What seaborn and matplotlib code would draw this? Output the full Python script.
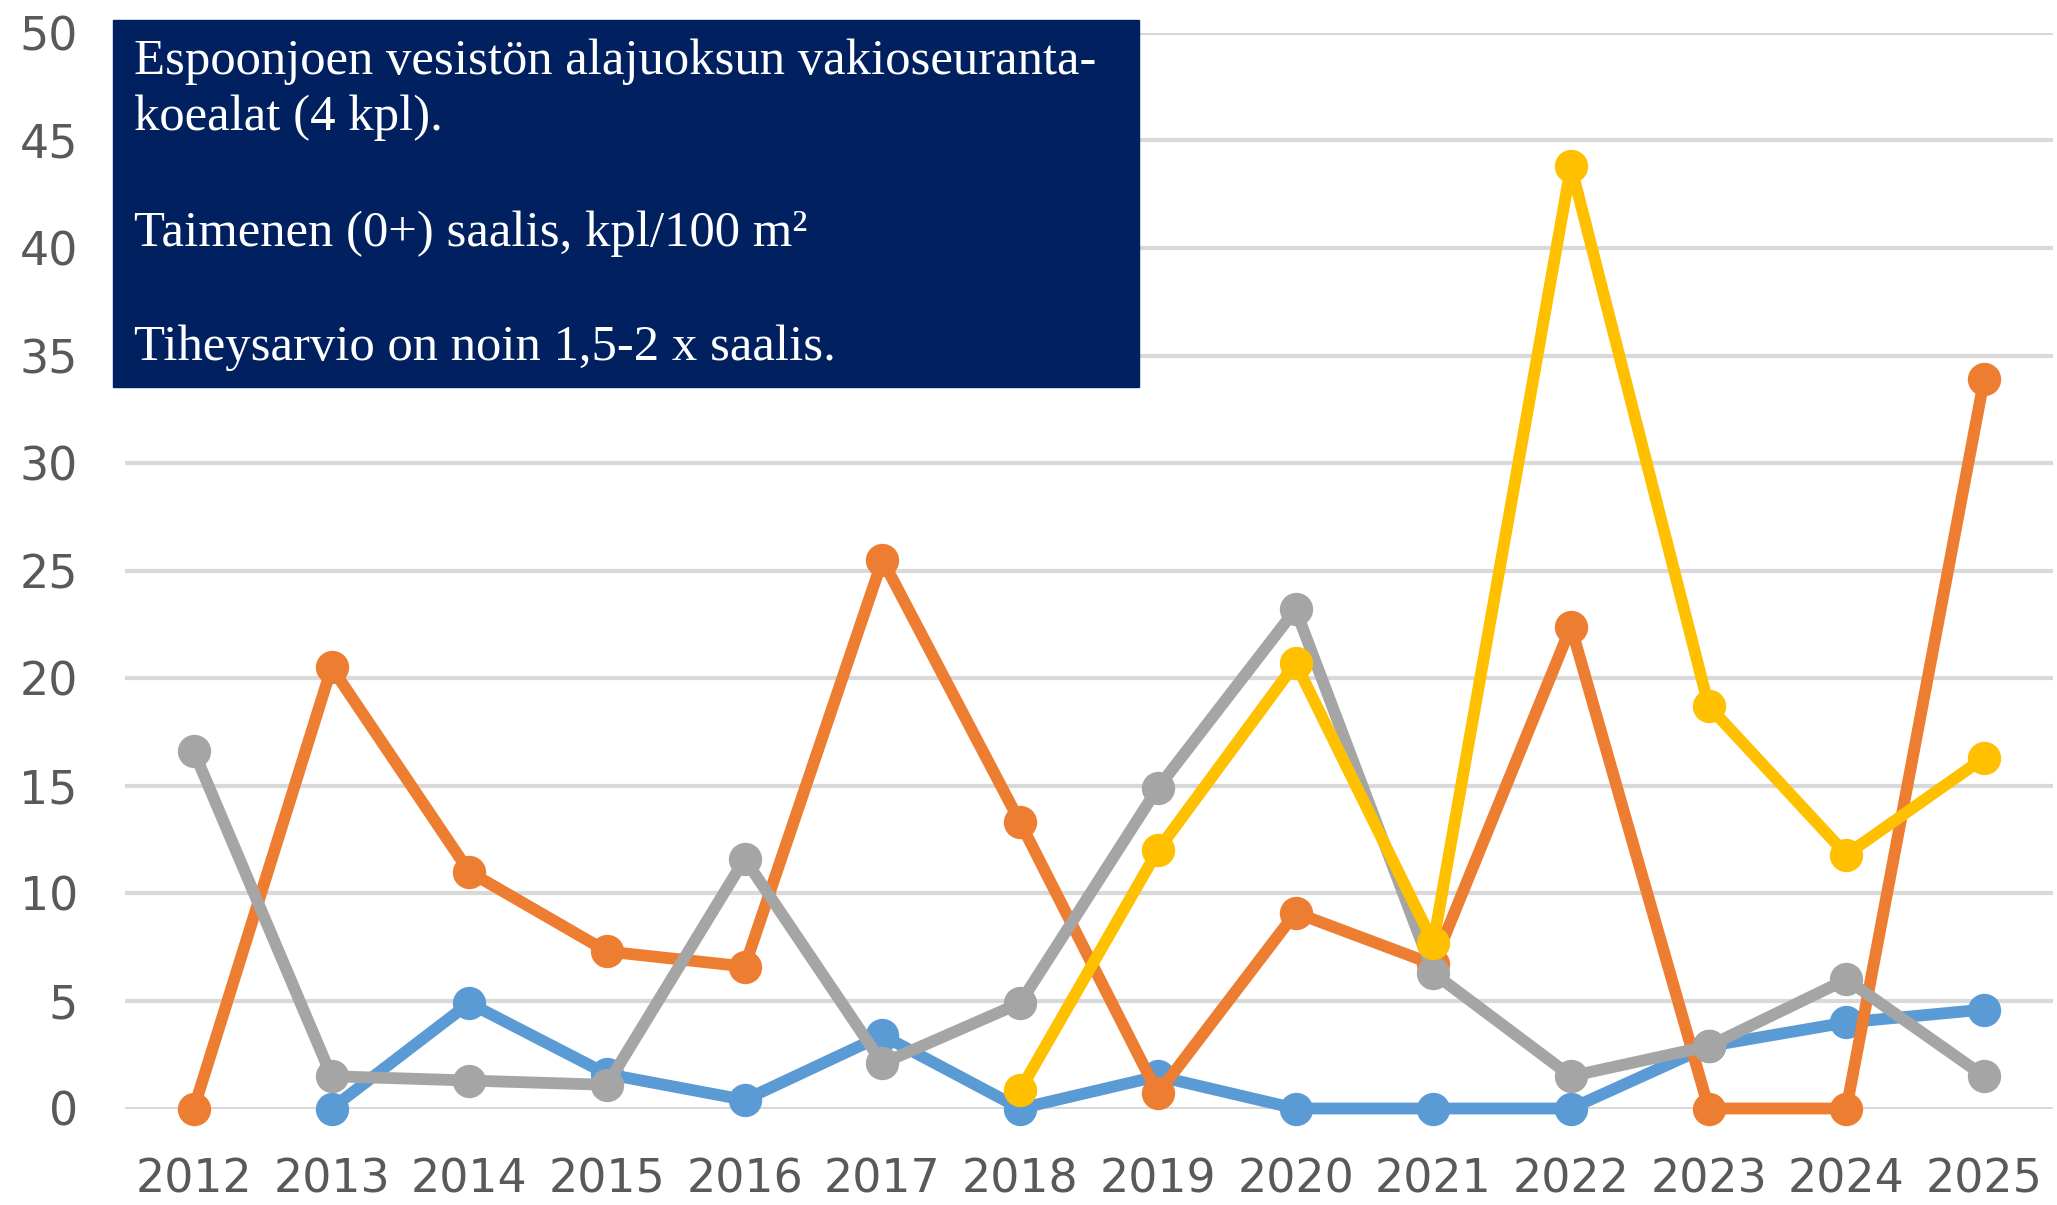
import numpy as np
import pandas as pd
import matplotlib
matplotlib.use("Agg")
import matplotlib.pyplot as plt
import seaborn as sns

years = list(range(2012, 2026))
blue = [np.nan, 0, 4.9, 1.6, 0.4, 3.4, 0, 1.5, 0, 0, 0, 2.9, 4.0, 4.6]
orange = [0, 20.5, 11.0, 7.3, 6.6, 25.5, 13.3, 0.7, 9.1, 6.7, 22.4, 0, 0, 33.9]
gray = [16.6, 1.5, 1.3, 1.1, 11.6, 2.1, 4.9, 14.9, 23.2, 6.3, 1.5, 2.9, 6.0, 1.5]
yellow = [np.nan] * 6 + [0.85, 12.0, 20.7, 7.7, 43.8, 18.7, 11.8, 16.3]

series = {"blue": blue, "orange": orange, "gray": gray, "yellow": yellow}
colors = {"blue": "#5B9BD5", "orange": "#ED7D31", "gray": "#A5A5A5", "yellow": "#FFC000"}

df = pd.DataFrame({"year": years, **series}).melt(id_vars="year", var_name="s", value_name="v")
df = df.dropna()

sns.set_style("white")
plt.rcParams["font.family"] = ["DejaVu Sans"]

fig = plt.figure(figsize=(20.57, 12.05), dpi=100)
ax = fig.add_axes([125 / 2057, 1 - 1108.5 / 1205, (2053 - 125) / 2057, (1108.5 - 32.8) / 1205])

for name in series:
    sns.lineplot(data=df[df.s == name], x="year", y="v", color=colors[name],
                 marker="o", ax=ax, legend=False)

# thicker lines / bigger markers like the excel original
for ln in ax.lines:
    ln.set_linewidth(8.5)
    ln.set_markersize(24)
    ln.set_markeredgewidth(0)
    ln.set_clip_on(False)

ax.set_xlim(2011.5, 2025.5)
ax.set_ylim(0, 50)
ax.set_xticks(years)
ax.set_xticklabels([str(y) for y in years])
ax.set_yticks(range(0, 51, 5))
ax.yaxis.grid(True, color="#D9D9D9", lw=3)
ax.set_axisbelow(True)
for sp in ax.spines.values():
    sp.set_visible(False)
ax.tick_params(axis="both", length=0, labelsize=33, colors="#595959")
ax.tick_params(axis="x", pad=35)
ax.tick_params(axis="y", pad=34)
ax.set_xlabel("")
ax.set_ylabel("")

# text box
fig.patches.append(plt.Rectangle((113 / 2057, 1 - 387 / 1205), (1139 - 113) / 2057, (387 - 20) / 1205,
                                 transform=fig.transFigure, color="#002060", zorder=5))
lines = ["Espoonjoen vesistön alajuoksun vakioseuranta-", "koealat (4 kpl).",
         "Taimenen (0+) saalis, kpl/100 m²", "Tiheysarvio on noin 1,5-2 x saalis."]
line_y = [61.7, 118, 233.5, 347.7]
for t, y in zip(lines, line_y):
    fig.text(134 / 2057, 1 - y / 1205, t, color="white", fontsize=36.5, va="center", ha="left",
             family="Liberation Serif", zorder=6)

fig.savefig("out.png", dpi=100)
